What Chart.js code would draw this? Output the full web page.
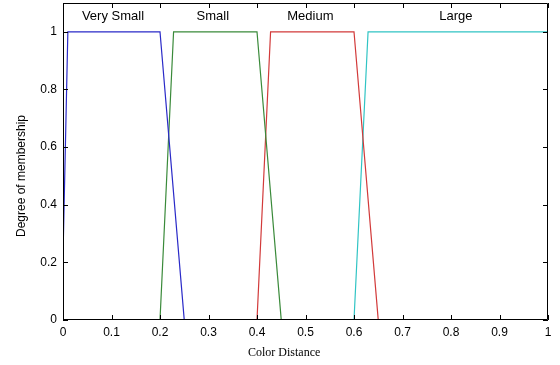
<!DOCTYPE html>
<html>
<head>
<meta charset="utf-8">
<script src="https://cdn.jsdelivr.net/npm/chart.js@4"></script>
<style>
  html, body { margin: 0; padding: 0; background: #fff; }
  #wrap { width: 560px; height: 365px; }
</style>
</head>
<body>
<div id="wrap"><canvas id="chart"></canvas></div>
<script>
// membership functions (x = color distance, y = degree)
const verySmallX = [0, 0.01, 0.2, 0.25];
const verySmallY = [0.22, 1, 1, 0];
const smallX = [0.2, 0.228, 0.4, 0.45];
const smallY = [0, 1, 1, 0];
const mediumX = [0.4, 0.428, 0.6, 0.65];
const mediumY = [0, 1, 1, 0];
const largeX = [0.6, 0.629, 1];
const largeY = [0, 1, 1];

const setNames = ['Very Small', 'Small', 'Medium', 'Large'];
const setLabelX = [0.103, 0.309, 0.51, 0.81];

const xTicks = ['0', '0.1', '0.2', '0.3', '0.4', '0.5', '0.6', '0.7', '0.8', '0.9', '1'];
const yTicks = ['0', '0.2', '0.4', '0.6', '0.8', '1'];

function toPoints(xs, ys) {
    return xs.map((x, i) => ({ x: x, y: ys[i] }));
}

// MATLAB style box with inward ticks, set names and axis titles
const matlabAxes = {
    id: 'matlabAxes',
    afterDraw(chart) {
        const ctx = chart.ctx;
        const a = chart.chartArea;
        const xs = chart.scales.x;
        const ys = chart.scales.y;
        ctx.save();
        ctx.strokeStyle = '#000';
        ctx.lineWidth = 1;
        ctx.beginPath();
        ctx.rect(a.left + 0.5, a.top + 0.5, a.right - a.left - 1, a.bottom - a.top - 1);
        xTicks.forEach(t => {
            const px = Math.round(xs.getPixelForValue(parseFloat(t))) + 0.5;
            ctx.moveTo(px, a.bottom); ctx.lineTo(px, a.bottom - 5);
            ctx.moveTo(px, a.top); ctx.lineTo(px, a.top + 5);
        });
        yTicks.forEach(t => {
            const py = Math.round(ys.getPixelForValue(parseFloat(t))) + 0.5;
            ctx.moveTo(a.left, py); ctx.lineTo(a.left + 5, py);
            ctx.moveTo(a.right, py); ctx.lineTo(a.right - 5, py);
        });
        ctx.stroke();

        ctx.fillStyle = '#000';
        ctx.font = '13px "Liberation Sans", Arial, sans-serif';
        ctx.textAlign = 'center';
        ctx.textBaseline = 'middle';
        setNames.forEach((n, i) => {
            ctx.fillText(n, xs.getPixelForValue(setLabelX[i]), ys.getPixelForValue(1.053));
        });

        ctx.font = '12px "Liberation Serif", "Times New Roman", serif';
        ctx.fillText('Color Distance', xs.getPixelForValue(0.456), 353);

        ctx.font = '12px "Liberation Sans", Arial, sans-serif';
        ctx.translate(22, 176);
        ctx.rotate(-Math.PI / 2);
        ctx.fillText('Degree of membership', 0, 0);
        ctx.restore();
    }
};

function line(data, color) {
    return {
        data: data,
        borderColor: color,
        borderWidth: 1.2,
        pointRadius: 0,
        tension: 0,
        fill: false
    };
}

new Chart(document.getElementById('chart').getContext('2d'), {
    type: 'line',
    data: {
        datasets: [
            line(toPoints(verySmallX, verySmallY), '#2a2ac8'),
            line(toPoints(smallX, smallY), '#3a8a3a'),
            line(toPoints(mediumX, mediumY), '#d23a3a'),
            line(toPoints(largeX, largeY), '#30c4c4')
        ]
    },
    options: {
        responsive: true,
        maintainAspectRatio: false,
        animation: false,
        layout: { padding: { top: 3, right: 12, left: 0, bottom: 0 } },
        plugins: {
            legend: { display: false },
            tooltip: { enabled: false }
        },
        scales: {
            x: {
                type: 'linear',
                min: 0,
                max: 1,
                afterBuildTicks: s => { s.ticks = xTicks.map(t => ({ value: parseFloat(t) })); },
                afterFit: s => { s.height = 45; s.paddingLeft = 0; s.paddingRight = 0; },
                grid: { display: false, drawTicks: false },
                border: { display: false },
                ticks: {
                    padding: 5,
                    color: '#000',
                    font: { family: '"Liberation Sans", Arial, sans-serif', size: 12 },
                    maxRotation: 0,
                    callback: (v, i) => xTicks[i]
                }
            },
            y: {
                type: 'linear',
                min: 0,
                max: 1.1,
                afterBuildTicks: s => { s.ticks = yTicks.map(t => ({ value: parseFloat(t) })); },
                afterFit: s => { s.width = 63; s.paddingTop = 0; s.paddingBottom = 0; },
                grid: { display: false, drawTicks: false },
                border: { display: false },
                ticks: {
                    padding: 6,
                    color: '#000',
                    font: { family: '"Liberation Sans", Arial, sans-serif', size: 12 },
                    callback: (v, i) => yTicks[i]
                }
            }
        }
    },
    plugins: [matlabAxes]
});
</script>
</body>
</html>
